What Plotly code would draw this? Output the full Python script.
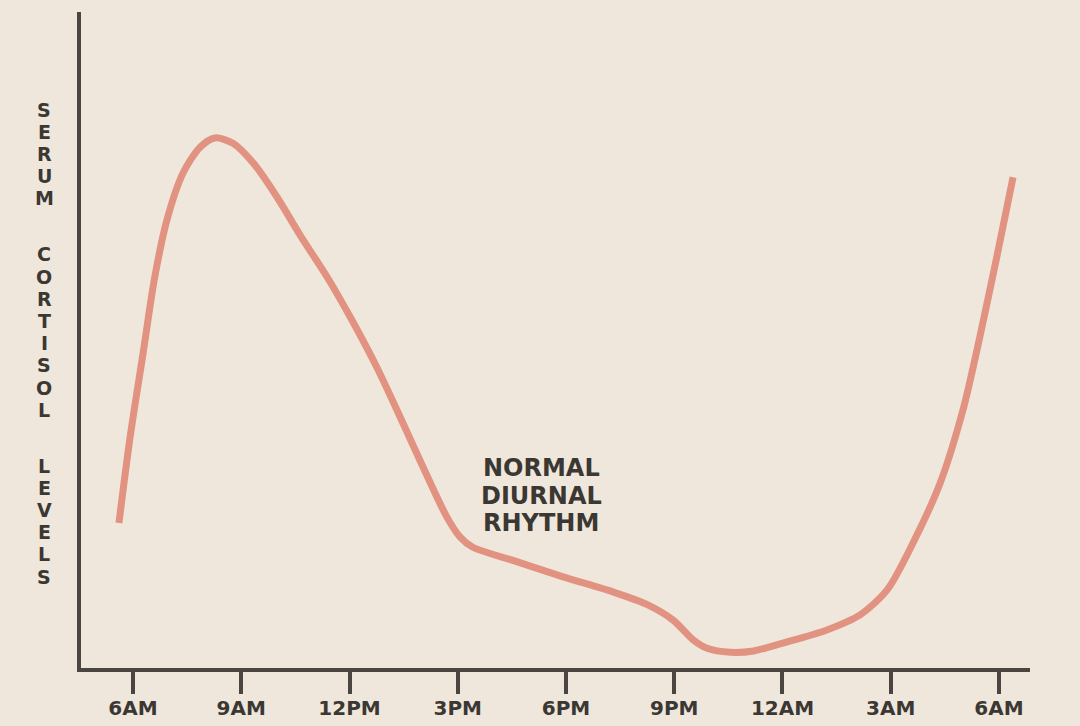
import plotly.graph_objects as go

# Hours after 6AM (0 = 6AM, 24 = next 6AM) and relative serum cortisol level (0-100)
hours = [-0.39, -0.08, 0.28, 0.60, 0.94, 1.39, 1.86, 2.27, 2.77, 3.33, 3.99, 4.63,
         5.38, 6.10, 6.76, 7.40, 8.04, 8.70, 9.06, 9.42, 10.53, 11.92, 13.30, 14.24,
         14.97, 15.52, 15.91, 16.55, 17.20, 18.01, 19.23, 20.15, 20.90, 21.62, 22.37,
         23.00, 23.47, 23.94, 24.39]
cortisol = [22.1, 35.2, 48.0, 59.5, 68.3, 75.5, 79.4, 80.8, 80.0, 77.0, 71.8, 66.0,
            59.6, 52.7, 45.8, 38.3, 30.6, 23.0, 20.0, 18.4, 16.4, 13.9, 11.6, 9.7,
            7.3, 4.3, 3.0, 2.4, 2.6, 3.8, 5.8, 8.1, 11.9, 19.1, 28.2,
            39.3, 50.5, 62.7, 74.8]

tick_vals = [0, 3, 6, 9, 12, 15, 18, 21, 24]
tick_text = ["6AM", "9AM", "12PM", "3PM", "6PM", "9PM", "12AM", "3AM", "6AM"]

y_title_words = ["SERUM", "CORTISOL", "LEVELS"]
note_lines = ["NORMAL", "DIURNAL", "RHYTHM"]

BG = "#EFE7DB"
AXIS = "#4A4541"
TEXT = "#3B3733"
CURVE = "#E29281"
FONT = "DejaVu Sans"

W, H = 1080, 726
ML, MR, MT, MB = 81, 50, 12, 58
PW, PH = W - ML - MR, H - MT - MB

fig = go.Figure()
fig.add_trace(go.Scatter(
    x=hours, y=cortisol, mode="lines",
    line=dict(color=CURVE, width=7, shape="spline", smoothing=0.8),
    hoverinfo="skip", showlegend=False,
))

# vertical stacked y-axis title letters
annotations = []
word_starts = [109.5, 254.5, 465.5]
pitch = 22.2
for word, start in zip(y_title_words, word_starts):
    for i, ch in enumerate(word):
        ypix = start + i * pitch
        annotations.append(dict(
            text=ch, xref="paper", yref="paper",
            x=(44 - ML) / PW, y=(H - MB - ypix) / PH,
            xanchor="center", yanchor="middle", showarrow=False,
            font=dict(family=FONT, size=19, color=TEXT, weight=700),
        ))

# "NORMAL DIURNAL RHYTHM" note, one line per annotation for tight leading
note_centers = [468, 495.5, 523]
for line, ypix in zip(note_lines, note_centers):
    annotations.append(dict(
        text=line, x=(541 - 133) / 36.083, y=(668 - ypix) / 6.56,
        xref="x", yref="y", xanchor="center", yanchor="middle", showarrow=False,
        font=dict(family=FONT, size=24, color=TEXT, weight=700),
    ))

fig.update_layout(
    width=W, height=H,
    margin=dict(l=ML, r=MR, t=MT, b=MB, autoexpand=False),
    paper_bgcolor=BG, plot_bgcolor=BG,
    annotations=annotations,
    xaxis=dict(
        range=[(ML - 133) / 36.083, (W - MR - 133) / 36.083],
        tickvals=tick_vals, ticktext=tick_text,
        showgrid=False, zeroline=False, automargin=False,
        showline=True, linecolor=AXIS, linewidth=4,
        ticks="outside", ticklen=22, tickwidth=4, tickcolor=AXIS,
        ticklabelstandoff=-3,
        tickfont=dict(family=FONT, size=20, color=TEXT, weight=700),
        fixedrange=True,
    ),
    yaxis=dict(
        range=[0, 100], showgrid=False, zeroline=False, automargin=False,
        showline=True, linecolor=AXIS, linewidth=4,
        showticklabels=False, ticks="", fixedrange=True,
    ),
)

fig.write_html(
    "out.html",
    config={"displayModeBar": False},
    post_script="document.body.style.margin='0';document.body.style.background='" + BG + "';",
)
